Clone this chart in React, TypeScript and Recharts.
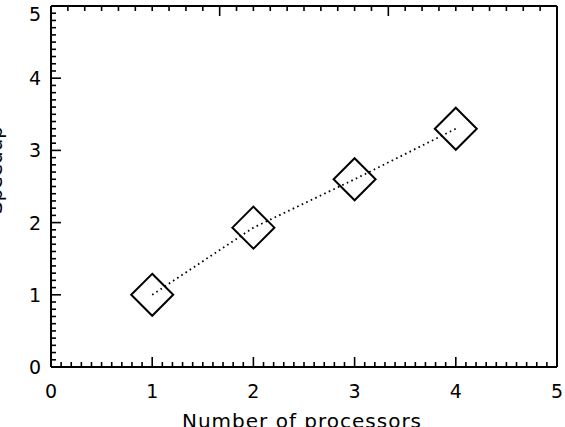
import React from 'react';
import { ComposedChart, Line, XAxis, YAxis } from 'recharts';

const processors = [1, 2, 3, 4];
const speedup = [1.0, 1.93, 2.6, 3.3];
const majorTicks = [0, 1, 2, 3, 4, 5];
const minorPerMajor = 10;

const data = processors.map((p, i) => ({ x: p, speedup: speedup[i] }));

// all tick positions: majors plus the 9 minor ticks in between
const allTicks: number[] = [];
majorTicks.forEach((m, i) => {
  if (i === majorTicks.length - 1) {
    allTicks.push(m);
    return;
  }
  for (let k = 0; k < minorPerMajor; k++) allTicks.push(m + k / minorPerMajor);
});

const FONT = '"DejaVu Sans", sans-serif';
const isMajor = (v: number) => Math.abs(v - Math.round(v)) < 1e-6;

function makeTick(side: 'bottom' | 'top' | 'left' | 'right', showLabel: boolean) {
  return (props: any) => {
    const { x, y, payload } = props;
    const v = payload.value as number;
    const len = isMajor(v) ? 10 : 5;
    let x2 = x, y2 = y;
    if (side === 'bottom') y2 = y - len;
    if (side === 'top') y2 = y + len;
    if (side === 'left') x2 = x + len;
    if (side === 'right') x2 = x - len;
    // keep the top label inside the picture
    const ly = Math.max(y, 14);
    const lx = Math.min(x, 558);
    return (
      <g>
        <line x1={x} y1={y} x2={x2} y2={y2} stroke="#000" strokeWidth={1.6} />
        {showLabel && isMajor(v) && side === 'bottom' && (
          <text x={lx} y={y + 31} textAnchor="middle" fontFamily={FONT} fontSize={19} fill="#000">
            {Math.round(v)}
          </text>
        )}
        {showLabel && isMajor(v) && side === 'left' && (
          <text x={x - 10} y={ly + 7} textAnchor="end" fontFamily={FONT} fontSize={19} fill="#000">
            {Math.round(v)}
          </text>
        )}
      </g>
    );
  };
}

const DiamondDot = (props: any) => {
  const { cx, cy } = props;
  const r = 21;
  return (
    <path
      d={`M${cx},${cy - r} L${cx + r},${cy} L${cx},${cy + r} L${cx - r},${cy} Z`}
      fill="none"
      stroke="#000"
      strokeWidth={2}
    />
  );
};

export default function App() {
  return (
    <div style={{ position: 'absolute', left: 0, top: 0, width: 565, height: 427, background: '#fff' }}>
      <ComposedChart width={565} height={427} data={data} margin={{ top: 0, right: 0, bottom: 0, left: 0 }}>
        <XAxis
          dataKey="x"
          type="number"
          domain={[0, 5]}
          ticks={allTicks}
          interval={0}
          height={60}
          tickSize={0}
          tickMargin={0}
          axisLine={{ stroke: '#000', strokeWidth: 2 }}
          tickLine={false}
          tick={makeTick('bottom', true)}
          label={{
            content: () => (
              <text x={302} y={428} textAnchor="middle" fontFamily={FONT} fontSize={20} letterSpacing={1} fill="#000">
                Number of processors
              </text>
            ),
          }}
        />
        <XAxis
          xAxisId="top"
          orientation="top"
          type="number"
          domain={[0, 5]}
          ticks={allTicks}
          interval={0}
          height={6}
          tickSize={0}
          tickMargin={0}
          axisLine={{ stroke: '#000', strokeWidth: 2 }}
          tickLine={false}
          tick={makeTick('top', false)}
        />
        <YAxis
          type="number"
          domain={[0, 5]}
          ticks={allTicks}
          interval={0}
          width={51}
          tickSize={0}
          tickMargin={0}
          axisLine={{ stroke: '#000', strokeWidth: 2 }}
          tickLine={false}
          tick={makeTick('left', true)}
          label={{
            content: () => (
              <text
                x={2}
                y={170}
                transform="rotate(-90 2 170)"
                textAnchor="middle"
                fontFamily={FONT}
                fontSize={20}
                fill="#000"
              >
                Speedup
              </text>
            ),
          }}
        />
        <YAxis
          yAxisId="right"
          orientation="right"
          type="number"
          domain={[0, 5]}
          ticks={allTicks}
          interval={0}
          width={8}
          tickSize={0}
          tickMargin={0}
          axisLine={{ stroke: '#000', strokeWidth: 2 }}
          tickLine={false}
          tick={makeTick('right', false)}
        />
        <Line
          type="linear"
          dataKey="speedup"
          stroke="#000"
          strokeWidth={1.8}
          strokeDasharray="1.6 3.4"
          dot={<DiamondDot />}
          activeDot={false}
          isAnimationActive={false}
        />
      </ComposedChart>
    </div>
  );
}
